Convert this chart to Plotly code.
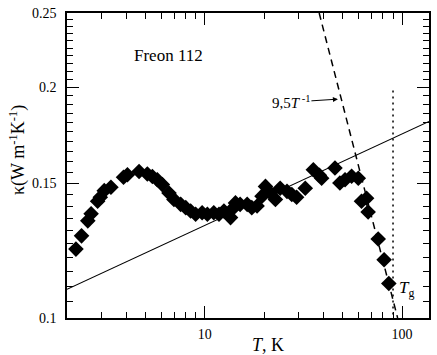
import numpy as np
import plotly.graph_objects as go

# measured thermal conductivity of Freon 112
temp_K = [2.22, 2.37, 2.55, 2.65, 2.86, 2.95, 3.09, 3.34, 3.87, 4.05,
          4.64, 5.11, 5.42, 5.74, 6.09, 6.58, 6.97, 7.54, 8.00, 8.47,
          8.98, 9.69, 10.3, 11.1, 11.8, 12.5, 13.5, 14.0, 14.3, 15.1,
          16.4, 17.3, 18.4, 19.5, 20.3, 21.5, 22.8, 24.1, 26.1, 27.6,
          29.2, 32.3, 35.5, 38.1, 39.1, 45.7, 48.4, 51.4, 55.5, 60.0,
          62.3, 66.1, 67.3, 75.7, 81.1, 85.7]
kappa = [0.1230, 0.1280, 0.1339, 0.1368, 0.1420, 0.1437, 0.1466, 0.1481, 0.1526, 0.1538,
         0.1553, 0.1541, 0.1530, 0.1515, 0.1493, 0.1456, 0.1428, 0.1407, 0.1393, 0.1379,
         0.1366, 0.1372, 0.1366, 0.1372, 0.1366, 0.1379, 0.1352, 0.1393, 0.1413, 0.1407,
         0.1407, 0.1393, 0.1400, 0.1442, 0.1485, 0.1456, 0.1428, 0.1477, 0.1463, 0.1449,
         0.1437, 0.1477, 0.1561, 0.1535, 0.1522, 0.1569, 0.1500, 0.1515, 0.1531, 0.1522,
         0.1420, 0.1433, 0.1375, 0.1268, 0.1191, 0.1109]

# solid guide line
fit_T = [2.0, 137.0]
fit_k = [0.1090, 0.1805]

# 9,5 T^-1 dashed line
dash_T = [38.0, 95.0]
dash_k = [0.250, 0.100]

# glass transition
tg_T = [90.0, 90.0]
tg_k = [0.198, 0.100]

x_major = [10, 100]
x_minor = [3, 4, 5, 6, 7, 8, 9, 20, 30, 40, 50, 60, 70, 80, 90]
y_major = [0.1, 0.15, 0.2, 0.25]
y_minor = [round(v, 3) for v in np.arange(0.105, 0.25, 0.005) if round(v, 3) not in y_major]

FONT = "Liberation Serif, Tinos, Times New Roman, DejaVu Serif, serif"

fig = go.Figure()

fig.add_trace(go.Scatter(x=fit_T, y=fit_k, mode="lines",
                         line=dict(color="black", width=1.2), showlegend=False))
fig.add_trace(go.Scatter(x=dash_T, y=dash_k, mode="lines",
                         line=dict(color="black", width=1.5, dash="7px,5px"), showlegend=False))
fig.add_trace(go.Scatter(x=tg_T, y=tg_k, mode="lines",
                         line=dict(color="black", width=1.5, dash="2px,4px"), showlegend=False))
fig.add_trace(go.Scatter(x=temp_K, y=kappa, mode="markers",
                         marker=dict(symbol="diamond", size=12, color="black"),
                         showlegend=False))

axis_common = dict(
    type="log", showgrid=False, zeroline=False,
    showline=True, linecolor="black", linewidth=1.5, mirror="allticks",
    ticks="inside", ticklen=12, tickwidth=1.3, tickcolor="black",
    tickfont=dict(family=FONT, size=14, color="black"),
)

fig.update_xaxes(
    range=[np.log10(2.0), np.log10(137)],
    tickvals=x_major, ticktext=["10", "100"],
    minor=dict(tickvals=x_minor, ticks="inside", ticklen=6, tickwidth=1.3, tickcolor="black"),
    ticklabelstandoff=2,
    **axis_common,
)
fig.update_yaxes(
    range=[np.log10(0.1), np.log10(0.25)],
    tickvals=y_major, ticktext=["0.1", "0.15", "0.2", "0.25"],
    minor=dict(tickvals=y_minor, ticks="inside", ticklen=6, tickwidth=1.3, tickcolor="black"),
    ticklabelstandoff=6,
    **axis_common,
)

fig.add_annotation(text="Freon 112", xref="paper", yref="paper", x=0.28, y=0.86,
                   xanchor="center", yanchor="middle",
                   showarrow=False, font=dict(family=FONT, size=17, color="black"))
fig.add_annotation(text="9,5<i>T</i><sup> -1</sup>", x=np.log10(47.3), y=np.log10(0.193),
                   ax=-47, ay=3, showarrow=True, arrowhead=2, arrowsize=1, arrowwidth=1,
                   arrowcolor="black", font=dict(family=FONT, size=15, color="black"))
fig.add_annotation(text="<i>T</i><sub>g</sub>", x=np.log10(94), y=np.log10(0.109),
                   xanchor="left", showarrow=False,
                   font=dict(family=FONT, size=17, color="black"))

# axis titles placed by hand to match the original offsets
fig.add_annotation(text="<i>T</i>, K", xref="paper", yref="paper", x=0.555, y=-0.088,
                   xanchor="center", yanchor="middle", showarrow=False,
                   font=dict(family=FONT, size=18, color="black"))
fig.add_annotation(text="κ(W m<sup>-1</sup>K<sup>-1</sup>)", xref="paper", yref="paper",
                   x=-0.137, y=0.552, xanchor="center", yanchor="middle",
                   textangle=-90, showarrow=False,
                   font=dict(family=FONT, size=18, color="black"))

fig.update_layout(
    width=437, height=355,
    margin=dict(l=67, r=6, t=10, b=37),
    plot_bgcolor="white", paper_bgcolor="white",
    font=dict(family=FONT, color="black"),
)

# drop the default 8px page margin so the figure sits at the window corner
fig.write_html("out.html", config={"displayModeBar": False},
               post_script="document.body.style.margin='0';")
